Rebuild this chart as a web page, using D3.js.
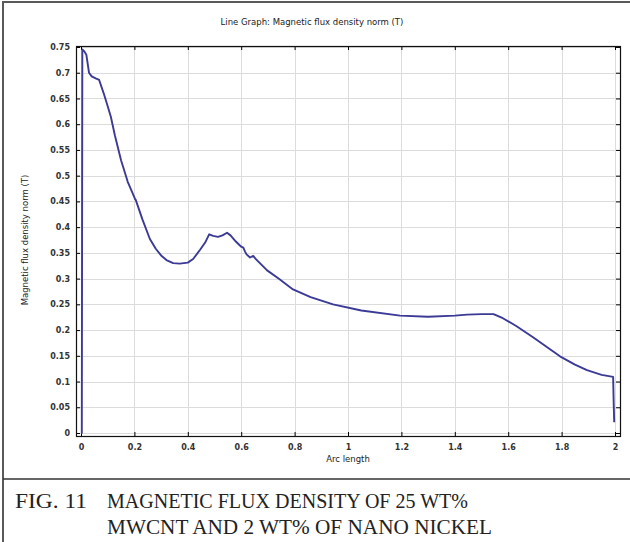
<!DOCTYPE html>
<html>
<head>
<meta charset="utf-8">
<script src="https://cdn.jsdelivr.net/npm/d3@7"></script>
<style>
  body { margin: 0; background: #fff; }
  svg { display: block; }
</style>
</head>
<body>
<svg id="chart" width="630" height="542"></svg>
<script>
// arc length values
const arcLength = [0, 0.003, 0.005, 0.012, 0.02, 0.03, 0.04, 0.055, 0.068, 0.085, 0.1, 0.112, 0.127,
  0.15, 0.175, 0.2, 0.202, 0.205, 0.23, 0.258, 0.28, 0.3, 0.32, 0.345, 0.37, 0.4, 0.42, 0.446,
  0.465, 0.48, 0.495, 0.513, 0.53, 0.547, 0.56, 0.58, 0.6, 0.608, 0.614, 0.62, 0.633, 0.645,
  0.655, 0.67, 0.697, 0.74, 0.794, 0.86, 0.944, 1.05, 1.195, 1.3, 1.4, 1.446, 1.5, 1.545, 1.58,
  1.63, 1.693, 1.75, 1.794, 1.85, 1.895, 1.95, 1.993, 1.995, 1.997];
// magnetic flux density norm (T)
const fluxNorm = [0, 0.0, 0.745, 0.742, 0.735, 0.7, 0.693, 0.689, 0.686, 0.66, 0.635, 0.614, 0.578,
  0.53, 0.488, 0.458, 0.455, 0.453, 0.415, 0.377, 0.358, 0.345, 0.336, 0.33, 0.329, 0.331, 0.338, 0.356,
  0.37, 0.386, 0.383, 0.381, 0.384, 0.389, 0.384, 0.372, 0.362, 0.36, 0.353, 0.347, 0.341, 0.344,
  0.338, 0.33, 0.316, 0.3, 0.279, 0.264, 0.25, 0.238, 0.228, 0.226, 0.228, 0.23, 0.231, 0.231, 0.223,
  0.208, 0.186, 0.165, 0.149, 0.133, 0.122, 0.113, 0.109, 0.06, 0.021];

const xTicks = [0, 0.2, 0.4, 0.6, 0.8, 1, 1.2, 1.4, 1.6, 1.8, 2];
const yTicks = [0, 0.05, 0.1, 0.15, 0.2, 0.25, 0.3, 0.35, 0.4, 0.45, 0.5, 0.55, 0.6, 0.65, 0.7, 0.75];

const title = "Line Graph: Magnetic flux density norm (T)";
const xLabel = "Arc length";
const yLabel = "Magnetic flux density norm (T)";
const caption = ["FIG. 11", "MAGNETIC FLUX DENSITY OF 25 WT%", "MWCNT AND 2 WT% OF NANO NICKEL"];

const svg = d3.select("#chart");
const frame = {left: 76, right: 620, top: 46, bottom: 436};

const x = d3.scaleLinear().domain([0, 2]).range([81, 615]);
const y = d3.scaleLinear().domain([0, 0.75]).range([433, 47]);

// outer border of the figure
svg.append("rect")
  .attr("x", 3).attr("y", 2)
  .attr("width", 640).attr("height", 560)
  .attr("fill", "none")
  .attr("stroke", "#5a5a5a")
  .attr("stroke-width", 2);

// grid
const grid = svg.append("g").attr("stroke", "#dcdcdc").attr("stroke-width", 1);
grid.selectAll(".gx").data(xTicks).enter().append("line")
  .attr("x1", d => Math.round(x(d)) + 0.5).attr("x2", d => Math.round(x(d)) + 0.5)
  .attr("y1", frame.top).attr("y2", frame.bottom);
grid.selectAll(".gy").data(yTicks).enter().append("line")
  .attr("y1", d => Math.round(y(d)) + 0.5).attr("y2", d => Math.round(y(d)) + 0.5)
  .attr("x1", frame.left).attr("x2", frame.right);

// axes with inward ticks on all sides
const tickFont = g => g.selectAll("text")
  .attr("font-family", "DejaVu Sans, sans-serif")
  .attr("font-size", 8)
  .attr("font-weight", "bold")
  .attr("fill", "#333");

svg.append("g")
  .attr("transform", `translate(0,${frame.bottom})`)
  .call(d3.axisBottom(x).tickValues(xTicks).tickSizeInner(-4).tickSizeOuter(0).tickPadding(8).tickFormat(d3.format("~g")))
  .call(g => g.select(".domain").remove())
  .call(tickFont);

svg.append("g")
  .attr("transform", `translate(${frame.left},0)`)
  .call(d3.axisLeft(y).tickValues(yTicks).tickSizeInner(-4).tickSizeOuter(0).tickPadding(6).tickFormat(d3.format("~g")))
  .call(g => g.select(".domain").remove())
  .call(tickFont);

svg.append("g")
  .attr("transform", `translate(0,${frame.top})`)
  .call(d3.axisTop(x).tickValues(xTicks).tickSizeInner(-4).tickSizeOuter(0).tickFormat(""))
  .call(g => g.select(".domain").remove());

svg.append("g")
  .attr("transform", `translate(${frame.right},0)`)
  .call(d3.axisRight(y).tickValues(yTicks).tickSizeInner(-4).tickSizeOuter(0).tickFormat(""))
  .call(g => g.select(".domain").remove());

svg.append("rect")
  .attr("x", frame.left + 0.5).attr("y", frame.top + 0.5)
  .attr("width", frame.right - frame.left).attr("height", frame.bottom - frame.top)
  .attr("fill", "none").attr("stroke", "#111").attr("stroke-width", 1.2);

// the curve
const points = arcLength.map((a, i) => [a, fluxNorm[i]]);
svg.append("path")
  .datum(points)
  .attr("fill", "none")
  .attr("stroke", "#3b3a96")
  .attr("stroke-width", 1.9)
  .attr("stroke-linejoin", "round")
  .attr("d", d3.line().x(d => x(d[0])).y(d => y(d[1])));

// titles
svg.append("text")
  .attr("x", 312).attr("y", 25)
  .attr("text-anchor", "middle")
  .attr("font-family", "DejaVu Sans, sans-serif")
  .attr("font-size", 8.5)
  .attr("fill", "#222")
  .text(title);

svg.append("text")
  .attr("x", 348).attr("y", 462)
  .attr("text-anchor", "middle")
  .attr("font-family", "DejaVu Sans, sans-serif")
  .attr("font-size", 8.5)
  .attr("fill", "#222")
  .text(xLabel);

svg.append("text")
  .attr("transform", "translate(28,240) rotate(-90)")
  .attr("text-anchor", "middle")
  .attr("font-family", "DejaVu Sans, sans-serif")
  .attr("font-size", 8.5)
  .attr("fill", "#222")
  .text(yLabel);

// caption block
svg.append("line")
  .attr("x1", 3).attr("x2", 630)
  .attr("y1", 479).attr("y2", 479)
  .attr("stroke", "#333").attr("stroke-width", 1.5);

const capFont = g => g
  .attr("font-family", "Liberation Serif, Times New Roman, serif")
  .attr("font-size", 22)
  .attr("fill", "#222")
  .attr("lengthAdjust", "spacingAndGlyphs");

svg.append("text").attr("x", 15).attr("y", 508).call(capFont).attr("textLength", 72).text(caption[0]);
svg.append("text").attr("x", 107).attr("y", 508).call(capFont).attr("textLength", 361).text(caption[1]);
svg.append("text").attr("x", 107).attr("y", 534).call(capFont).attr("textLength", 385).text(caption[2]);
</script>
</body>
</html>
